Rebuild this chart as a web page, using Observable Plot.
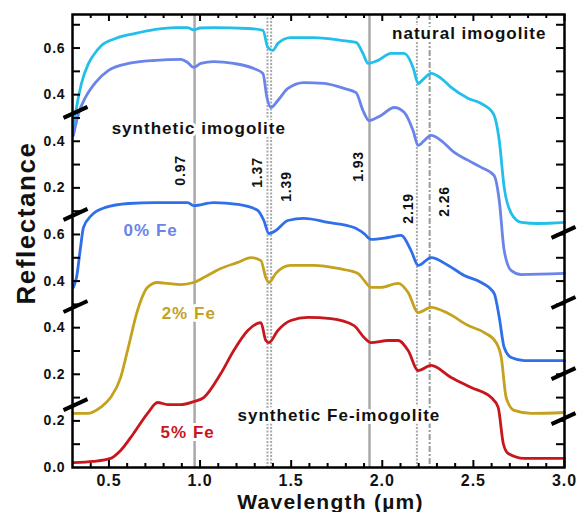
<!DOCTYPE html>
<html><head><meta charset="utf-8">
<script src="https://cdn.jsdelivr.net/npm/d3@7"></script>
<script src="https://cdn.jsdelivr.net/npm/@observablehq/plot@0.6"></script>
<style>body{margin:0;background:#fff}</style>
</head><body><div id="chart"></div>
<script>
// Spectra, as plotted on the offset (stacked) axis.
const seriesNames = ["natural imogolite", "synthetic imogolite", "0% Fe", "2% Fe", "5% Fe"];
const seriesColors = ["#22bfea", "#6b84ea", "#2f6fea", "#c4a11e", "#c8161c"];

const waveNatural = [0.305,0.322,0.349,0.388,0.426,0.459,0.536,0.646,0.756,0.866,0.93,0.965,1.0,1.075,1.262,1.345,1.372,1.400,1.427,1.498,1.625,1.773,1.856,1.894,1.922,1.977,2.048,2.120,2.169,2.197,2.230,2.268,2.323,2.378,2.472,2.543,2.609,2.642,2.669,2.708,2.763,2.856,3.0];
const natural     = [1.459,1.545,1.648,1.734,1.781,1.811,1.841,1.863,1.880,1.888,1.888,1.878,1.886,1.888,1.884,1.876,1.803,1.790,1.820,1.845,1.845,1.833,1.824,1.777,1.734,1.747,1.777,1.777,1.717,1.648,1.670,1.691,1.670,1.631,1.584,1.562,1.519,1.403,1.202,1.090,1.052,1.047,1.052];

const waveSynthetic = [0.305,0.333,0.371,0.426,0.498,0.608,0.756,0.894,0.932,0.965,1.004,1.075,1.185,1.295,1.345,1.367,1.389,1.427,1.482,1.570,1.680,1.790,1.856,1.894,1.927,1.993,2.065,2.120,2.169,2.197,2.230,2.268,2.323,2.395,2.472,2.543,2.614,2.642,2.669,2.708,2.763,3.0];
const synthetic     = [1.425,1.519,1.588,1.652,1.704,1.734,1.747,1.751,1.738,1.717,1.734,1.742,1.734,1.712,1.691,1.588,1.545,1.575,1.627,1.652,1.648,1.627,1.609,1.532,1.489,1.511,1.545,1.524,1.446,1.382,1.403,1.425,1.403,1.352,1.318,1.288,1.253,1.146,0.931,0.845,0.828,0.833];

const waveFe0 = [0.305,0.322,0.344,0.360,0.404,0.481,0.608,0.756,0.866,0.932,0.965,1.075,1.207,1.317,1.350,1.378,1.416,1.482,1.570,1.702,1.845,1.900,1.938,2.032,2.103,2.158,2.197,2.268,2.362,2.450,2.543,2.614,2.642,2.669,2.708,2.779,3.0];
const fe0     = [0.773,0.815,0.944,1.030,1.082,1.116,1.133,1.137,1.137,1.137,1.124,1.137,1.129,1.103,1.060,1.004,1.017,1.060,1.069,1.052,1.030,1.004,0.979,0.987,0.996,0.931,0.867,0.901,0.867,0.824,0.794,0.747,0.644,0.515,0.472,0.459,0.459];

const waveFe2 = [0.305,0.382,0.454,0.509,0.564,0.602,0.657,0.712,0.767,0.822,0.894,0.965,1.020,1.114,1.207,1.279,1.334,1.361,1.378,1.416,1.498,1.625,1.757,1.867,1.900,1.938,1.993,2.087,2.142,2.197,2.268,2.362,2.472,2.560,2.625,2.653,2.680,2.724,2.818,3.0];
const fe2     = [0.232,0.232,0.258,0.300,0.386,0.502,0.674,0.773,0.794,0.790,0.785,0.794,0.815,0.854,0.880,0.901,0.888,0.815,0.794,0.833,0.867,0.867,0.854,0.833,0.803,0.773,0.773,0.790,0.751,0.665,0.687,0.661,0.609,0.579,0.536,0.472,0.300,0.245,0.232,0.236];

const waveFe5 = [0.305,0.415,0.509,0.564,0.635,0.712,0.767,0.822,0.894,0.965,1.020,1.114,1.185,1.262,1.334,1.361,1.378,1.427,1.498,1.592,1.718,1.845,1.900,1.938,2.032,2.087,2.142,2.197,2.268,2.378,2.488,2.598,2.636,2.664,2.691,2.779,3.0];
const fe5     = [0.021,0.026,0.039,0.073,0.146,0.232,0.279,0.270,0.270,0.283,0.300,0.403,0.502,0.588,0.622,0.545,0.536,0.588,0.631,0.644,0.639,0.609,0.558,0.536,0.545,0.545,0.502,0.416,0.438,0.386,0.343,0.300,0.258,0.103,0.060,0.039,0.039];

// Axis ticks
const xMajor = [0.5, 1.0, 1.5, 2.0, 2.5, 3.0];
const xTickLabels = ["0.5", "1.0", "1.5", "2.0", "2.5", "3.0"];
const xMinor = [0.4,0.6,0.7,0.8,0.9,1.1,1.2,1.3,1.4,1.6,1.7,1.8,1.9,2.1,2.2,2.3,2.4,2.6,2.7,2.8,2.9];
const yMajor = [0, 0.2, 0.4, 0.6, 0.8, 1.0, 1.2, 1.4, 1.6, 1.8];
const yTickLabels = ["0.0", "0.2", "0.2", "0.4", "0.4", "0.6", "0.2", "0.4", "0.4", "0.6"];
const yAllTicks = [0.1,0.2,0.3,0.4,0.5,0.6,0.7,0.8,0.9,1.0,1.1,1.2,1.3,1.4,1.5,1.6,1.7,1.8,1.9];
const breaksLeft = [1.524, 1.086, 0.691, 0.270];
const breaksRight = [1.009, 0.708, 0.403, 0.210];

// Absorption band markers
const solidBands = [0.97, 1.93];
const dottedBands = [1.37, 1.39, 2.19];
const dashDotBands = [2.26];
const bandLabels = ["0.97", "1.37", "1.39", "1.93", "2.19", "2.26"];
const bandLabelX = [0.894, 1.317, 1.476, 1.872, 2.142, 2.340];
const bandLabelY = [1.275, 1.266, 1.206, 1.292, 1.112, 1.142];

// Annotations
const noteText = ["natural imogolite", "synthetic imogolite", "synthetic Fe-imogolite", "0% Fe", "2% Fe", "5% Fe"];
const noteX = [2.477, 0.993, 1.762, 0.729, 0.938, 0.932];
const noteY = [1.863, 1.455, 0.223, 1.017, 0.661, 0.150];
const noteColor = ["#111", "#111", "#111", "#6b84ea", "#c4a11e", "#c8161c"];

const W = 579, H = 512, mL = 72, mR = 15, mT = 14, mB = 45;
const X0 = 0.3, X1 = 3.0, Y0 = 0, Y1 = 1.944;
const pxX = (X1 - X0) / (W - mL - mR), pxY = (Y1 - Y0) / (H - mT - mB);

const waves = [waveNatural, waveSynthetic, waveFe0, waveFe2, waveFe5];
const vals = [natural, synthetic, fe0, fe2, fe5];
const rows = [];
seriesNames.forEach((s, k) => waves[k].forEach((w, i) => rows.push({series: s, wl: w, r: vals[k][i]})));

const notes = noteText.map((t, i) => ({t, x: noteX[i], y: noteY[i], c: noteColor[i]}));
const bands = bandLabels.map((t, i) => ({t, x: bandLabelX[i], y: bandLabelY[i]}));

const chart = Plot.plot({
  width: W, height: H,
  marginLeft: mL, marginRight: mR, marginTop: mT, marginBottom: mB,
  x: {domain: [X0, X1], axis: null},
  y: {domain: [Y0, Y1], axis: null},
  color: {domain: seriesNames, range: seriesColors},
  style: {fontFamily: "'Liberation Sans', Arial, sans-serif", fontWeight: "bold", background: "#fff", color: "#111"},
  marks: [
    Plot.ruleX(solidBands, {x: d => d, stroke: "#a9a9a9", strokeWidth: 2.5}),
    Plot.ruleX(dottedBands, {x: d => d, stroke: "#a9a9a9", strokeWidth: 2, strokeDasharray: "2,1.5"}),
    Plot.ruleX(dashDotBands, {x: d => d, stroke: "#9a9a9a", strokeWidth: 2, strokeDasharray: "6,2,2,2"}),
    Plot.text(notes, {x: "x", y: "y", text: "t", fill: "c", fontSize: 17, stroke: "white", strokeWidth: 6}),
    Plot.text(bands, {x: "x", y: "y", text: "t", rotate: -90, fontSize: 14, fill: "#111"}),
    Plot.line(rows, {x: "wl", y: "r", z: "series", stroke: "series", strokeWidth: 2.8, curve: "monotone-x"}),
    // ticks (inside)
    Plot.ruleX(xMajor, {x: d => d, y1: Y0, y2: Y0 + 7 * pxY, stroke: "#000", strokeWidth: 2}),
    Plot.ruleX(xMinor, {x: d => d, y1: Y0, y2: Y0 + 4 * pxY, stroke: "#000", strokeWidth: 2}),
    Plot.ruleX(xMajor, {x: d => d, y1: Y1, y2: Y1 - 7 * pxY, stroke: "#000", strokeWidth: 2}),
    Plot.ruleX(xMinor, {x: d => d, y1: Y1, y2: Y1 - 4 * pxY, stroke: "#000", strokeWidth: 2}),
    Plot.ruleY(yAllTicks, {y: d => d, x1: X0, x2: X0 + 8 * pxX, stroke: "#000", strokeWidth: 2}),
    Plot.ruleY(yAllTicks, {y: d => d, x1: X1, x2: X1 - 8 * pxX, stroke: "#000", strokeWidth: 2}),
    Plot.frame({stroke: "#000", strokeWidth: 2.5}),
    Plot.link(breaksLeft, {x1: X0 - 9 * pxX, x2: X0 + 15 * pxX, y1: d => d - 5.5 * pxY, y2: d => d + 5.5 * pxY, stroke: "#000", strokeWidth: 4}),
    Plot.link(breaksRight, {x1: X1 - 13 * pxX, x2: X1 + 11 * pxX, y1: d => d - 5.5 * pxY, y2: d => d + 5.5 * pxY, stroke: "#000", strokeWidth: 4}),
    // tick labels
    Plot.text(xMajor, {x: d => d, text: (d, i) => xTickLabels[i], frameAnchor: "bottom", lineAnchor: "middle", textAnchor: "middle", dy: 13, fontSize: 16, fill: "#111"}),
    Plot.text(yMajor, {y: d => d, text: (d, i) => yTickLabels[i], frameAnchor: "left", lineAnchor: "middle", dx: -7, textAnchor: "end", fontSize: 14, fill: "#111"}),
    // axis titles
    Plot.text(["Wavelength (µm)"], {text: d => d, frameAnchor: "bottom", lineAnchor: "middle", textAnchor: "middle", dx: 12, dy: 35, fontSize: 21, fill: "#111"}),
    Plot.text(["Reflectance"], {text: d => d, frameAnchor: "left", lineAnchor: "middle", textAnchor: "middle", dx: -46, dy: -18, rotate: -90, fontSize: 26, fill: "#111"})
  ]
});
chart.querySelectorAll("g[font-size]").forEach(g => { g.style.letterSpacing = "0.06em"; });
document.getElementById("chart").appendChild(chart);
</script>
</body></html>
